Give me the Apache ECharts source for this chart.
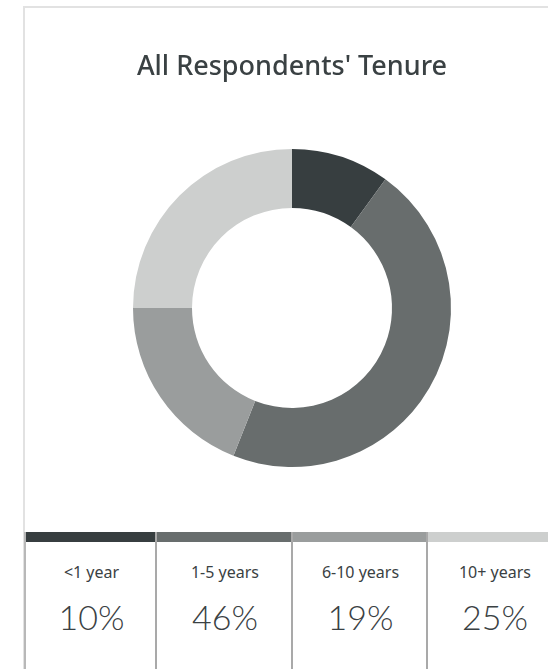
<!DOCTYPE html>
<html>
<head>
<meta charset="utf-8">
<script src="https://cdn.jsdelivr.net/npm/echarts@6/dist/echarts.min.js"></script>
<style>
  html, body { margin: 0; padding: 0; width: 548px; height: 669px; overflow: hidden; background: #fff; }
  #card { position: absolute; left: 23px; top: 6px; width: 560px; height: 700px;
          border-top: 2px solid #e2e2e2; border-left: 2px solid #e2e2e2; }
  #tenure { position: absolute; left: 24px; top: 6px; width: 536px; height: 520px; }
  .box { position: absolute; top: 532px; height: 140px; border-left: 2px solid #a9a9a9;
         font-family: "Noto Sans", Lato, sans-serif; color: #3a4143; text-align: center; }
  .box .bar { position: absolute; left: 0; right: 0; top: 0; height: 10px; }
  .box .lbl { position: absolute; left: 0; right: 0; top: 30px; font-size: 16px; line-height: 20px; }
  .box .pct { position: absolute; left: 0; right: 0; top: 65px; font-family: Lato, "Noto Sans", sans-serif;
              font-size: 34px; line-height: 40px; font-weight: 300; }
</style>
</head>
<body>
<div id="card"></div>
<div id="tenure"></div>
<div id="legend"></div>
<script>
(function() {
  var categories = ['<1 year', '1-5 years', '6-10 years', '10+ years'];
  var shares = [10, 46, 19, 25];
  var colors = ['#373e40', '#686d6d', '#9a9d9d', '#cdcfce'];

  var myChart = echarts.init(document.getElementById('tenure'));

  var pieData = [];
  categories.forEach(function (name, i) {
    pieData.push({ name: name, value: shares[i], itemStyle: { color: colors[i] } });
  });

  var option = {
    animation: false,
    title: {
      text: "All Respondents' Tenure",
      left: 'center',
      top: 48,
      padding: 0,
      textStyle: {
        fontFamily: '"Noto Sans", Lato, sans-serif',
        fontSize: 27,
        fontWeight: 500,
        color: '#3a4143'
      }
    },
    series: [{
      type: 'pie',
      center: ['50%', 302],
      radius: [100, 159],
      startAngle: 90,
      clockwise: true,
      label: { show: false },
      labelLine: { show: false },
      emphasis: { disabled: true },
      itemStyle: { borderWidth: 0 },
      data: pieData
    }]
  };
  myChart.setOption(option);

  // legend boxes under the donut
  var boxLeft = [24, 155, 291, 426];
  var boxWidth = [131, 136, 135, 134];
  var legend = document.getElementById('legend');
  categories.forEach(function (name, i) {
    var box = document.createElement('div');
    box.className = 'box';
    box.style.left = boxLeft[i] + 'px';
    box.style.width = boxWidth[i] + 'px';
    if (i === 0) box.style.borderLeftColor = '#b8b8b8';

    var bar = document.createElement('div');
    bar.className = 'bar';
    bar.style.background = colors[i];
    box.appendChild(bar);

    var lbl = document.createElement('div');
    lbl.className = 'lbl';
    lbl.textContent = name;
    box.appendChild(lbl);

    var pct = document.createElement('div');
    pct.className = 'pct';
    pct.textContent = shares[i] + '%';
    box.appendChild(pct);

    legend.appendChild(box);
  });
})();
</script>
</body>
</html>
